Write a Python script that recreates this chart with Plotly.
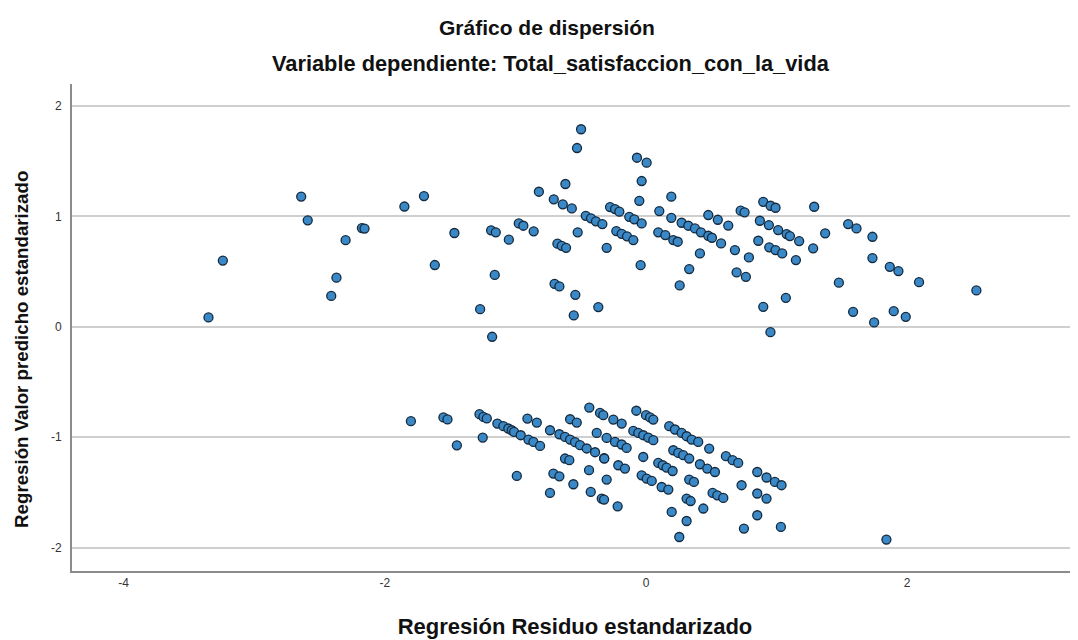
import plotly.graph_objects as go

# Standardized residuals (x) and standardized predicted values (y)
resid_upper = [-3.35, -3.24, -2.64, -2.59, -2.30, -2.37, -2.41, -2.175, -2.155, -1.85,
               -1.70, -1.467, -1.617, -1.186, -1.15, -1.05, -1.158, -1.27, -1.178, -0.974,
               -0.939, -0.86, -0.82, -0.706, -0.637, -0.568, -0.617, -0.497, -0.528, -0.678,
               -0.645, -0.612, -0.523, -0.70, -0.663, -0.541, -0.553, -0.365, -0.461, -0.421,
               -0.383, -0.334, -0.301, -0.275, -0.237, -0.204, -0.227, -0.186, -0.145, -0.097,
               -0.069, 0.005, -0.033, -0.051, -0.128, -0.089, -0.033, -0.041, 0.102, 0.194,
               0.194, 0.094, 0.148, 0.209, 0.243, 0.331, 0.258, 0.273, 0.324, 0.375,
               0.421, 0.477, 0.505, 0.413, 0.477, 0.55, 0.63, 0.575, 0.725, 0.755,
               0.681, 0.788, 0.694, 0.765, 0.898, 0.954, 0.992, 0.872, 0.941, 1.012,
               1.077, 1.102, 1.173, 0.86, 0.944, 0.992, 1.043, 1.148, 1.28, 1.288,
               1.372, 0.898, 1.071, 0.953, 1.477, 1.548, 1.612, 1.734, 1.734, 1.867,
               1.933, 1.586, 1.747, 1.897, 1.989, 2.091, 2.53]
pred_upper = [0.085, 0.60, 1.18, 0.965, 0.785, 0.445, 0.28, 0.895, 0.89, 1.09,
              1.185, 0.85, 0.56, 0.874, 0.856, 0.79, 0.47, 0.16, -0.09, 0.937,
              0.916, 0.865, 1.224, 1.155, 1.11, 1.073, 1.294, 1.79, 1.62, 0.753,
              0.734, 0.716, 0.856, 0.39, 0.366, 0.29, 0.103, 0.179, 1.006, 0.983,
              0.956, 0.931, 0.716, 1.085, 1.067, 1.043, 0.868, 0.843, 0.82, 0.786,
              1.532, 1.487, 1.321, 1.142, 0.997, 0.974, 0.937, 0.559, 1.049, 1.179,
              0.988, 0.856, 0.831, 0.786, 0.771, 0.523, 0.375, 0.943, 0.916, 0.892,
              0.856, 0.825, 0.807, 0.665, 1.013, 0.97, 0.917, 0.756, 1.052, 1.037,
              0.695, 0.629, 0.493, 0.453, 1.133, 1.097, 1.079, 0.961, 0.922, 0.877,
              0.84, 0.822, 0.777, 0.78, 0.72, 0.695, 0.665, 0.605, 0.711, 1.088,
              0.847, 0.181, 0.263, -0.048, 0.40, 0.931, 0.892, 0.816, 0.623, 0.544,
              0.505, 0.136, 0.04, 0.142, 0.091, 0.405, 0.33]

resid_lower = [-1.80, -1.551, -1.52, -1.448, -1.275, -1.245, -1.219, -1.25, -1.138, -1.092,
               -1.054, -1.028, -1.01, -0.959, -0.90, -0.862, -0.811, -0.989, -0.908, -0.836,
               -0.735, -0.663, -0.62, -0.581, -0.543, -0.505, -0.454, -0.39, -0.321, -0.581,
               -0.53, -0.62, -0.587, -0.709, -0.663, -0.735, -0.556, -0.434, -0.352, -0.327,
               -0.377, -0.301, -0.237, -0.186, -0.148, -0.25, -0.186, -0.436, -0.319, -0.301,
               -0.212, -0.161, -0.423, -0.339, -0.321, -0.217, -0.074, 0.0, 0.031, 0.056,
               -0.097, -0.059, -0.021, 0.018, 0.056, 0.178, 0.222, 0.273, 0.311, 0.35,
               0.40, 0.484, -0.021, 0.209, 0.247, 0.285, 0.331, 0.094, 0.128, 0.158,
               0.204, -0.033, 0.005, 0.044, 0.12, 0.171, 0.331, 0.367, 0.311, 0.342,
               0.197, 0.311, 0.255, 0.439, 0.413, 0.469, 0.528, 0.51, 0.546, 0.592,
               0.612, 0.663, 0.706, 0.732, 0.852, 0.923, 0.987, 1.038, 0.852, 0.923,
               0.852, 0.75, 1.033, 1.841]
pred_lower = [-0.855, -0.821, -0.839, -1.073, -0.791, -0.816, -0.83, -1.003, -0.876, -0.90,
              -0.921, -0.937, -0.952, -0.982, -1.021, -1.043, -1.079, -1.351, -0.831, -0.867,
              -0.937, -0.973, -0.997, -1.021, -1.045, -1.072, -1.102, -1.136, -1.19, -0.837,
              -0.867, -1.193, -1.208, -1.329, -1.354, -1.505, -1.426, -0.731, -0.78, -0.80,
              -0.961, -1.006, -1.043, -1.066, -1.097, -0.84, -0.876, -1.299, -1.193, -1.384,
              -1.254, -1.284, -1.496, -1.556, -1.565, -1.626, -0.76, -0.80, -0.821, -0.84,
              -0.943, -0.961, -0.982, -1.003, -1.027, -0.90, -0.93, -0.961, -0.991, -1.021,
              -1.043, -1.103, -1.179, -1.118, -1.142, -1.163, -1.193, -1.233, -1.254, -1.275,
              -1.306, -1.345, -1.375, -1.396, -1.451, -1.474, -1.384, -1.405, -1.556, -1.578,
              -1.677, -1.759, -1.904, -1.646, -1.245, -1.284, -1.315, -1.505, -1.526, -1.55,
              -1.172, -1.208, -1.233, -1.435, -1.315, -1.365, -1.405, -1.435, -1.51, -1.556,
              -1.707, -1.828, -1.813, -1.927]

x_ticks = [-4, -2, 0, 2]
y_ticks = [-2, -1, 0, 1, 2]

title_text = "Gráfico de dispersión"
subtitle_text = "Variable dependiente: Total_satisfaccion_con_la_vida"
x_title = "Regresión Residuo estandarizado"
y_title = "Regresión Valor predicho estandarizado"

FONT = "Liberation Sans, Arial, sans-serif"

fig = go.Figure()
fig.add_trace(go.Scatter(
    x=resid_upper + resid_lower,
    y=pred_upper + pred_lower,
    mode="markers",
    marker=dict(size=9, color="#3a88c6", line=dict(color="#142a3e", width=1.3)),
    hoverinfo="x+y",
    showlegend=False,
))

fig.update_layout(
    width=1070, height=632,
    paper_bgcolor="white", plot_bgcolor="white",
    margin=dict(l=64, r=0, t=76, b=69),
    font=dict(family=FONT, color="#222"),
    xaxis=dict(
        range=[-4.395, 3.308], tickvals=x_ticks, ticktext=[str(v) for v in x_ticks],
        showgrid=False, zeroline=False, showline=True, linecolor="#8c8c8c", linewidth=2,
        ticks="", tickfont=dict(size=12, color="#333"),
        title=dict(text=x_title, font=dict(size=22, color="#111", weight="bold"), standoff=29),
        automargin=False,
    ),
    yaxis=dict(
        range=[-2.212, 2.20], tickvals=y_ticks, ticktext=[str(v) for v in y_ticks],
        showgrid=True, gridcolor="#cfcfcf", gridwidth=1.5, zeroline=False,
        showline=True, linecolor="#8c8c8c", linewidth=2,
        ticks="", tickfont=dict(size=12, color="#333"), ticklabelstandoff=6,
        automargin=False,
    ),
    annotations=[
        dict(text=title_text, xref="paper", yref="paper", x=0.472, y=1.117,
             showarrow=False, font=dict(size=21, color="#111", weight="bold"),
             xanchor="center", yanchor="middle"),
        dict(text=subtitle_text, xref="paper", yref="paper", x=0.476, y=1.043,
             showarrow=False, font=dict(size=21.8, color="#111", weight="bold"),
             xanchor="center", yanchor="middle"),
        dict(text=y_title, xref="paper", yref="paper", x=-0.0497, y=0.454, textangle=-90,
             showarrow=False, font=dict(size=18.7, color="#111", weight="bold"),
             xanchor="center", yanchor="middle"),
    ],
)

fig.write_html("out.html")
